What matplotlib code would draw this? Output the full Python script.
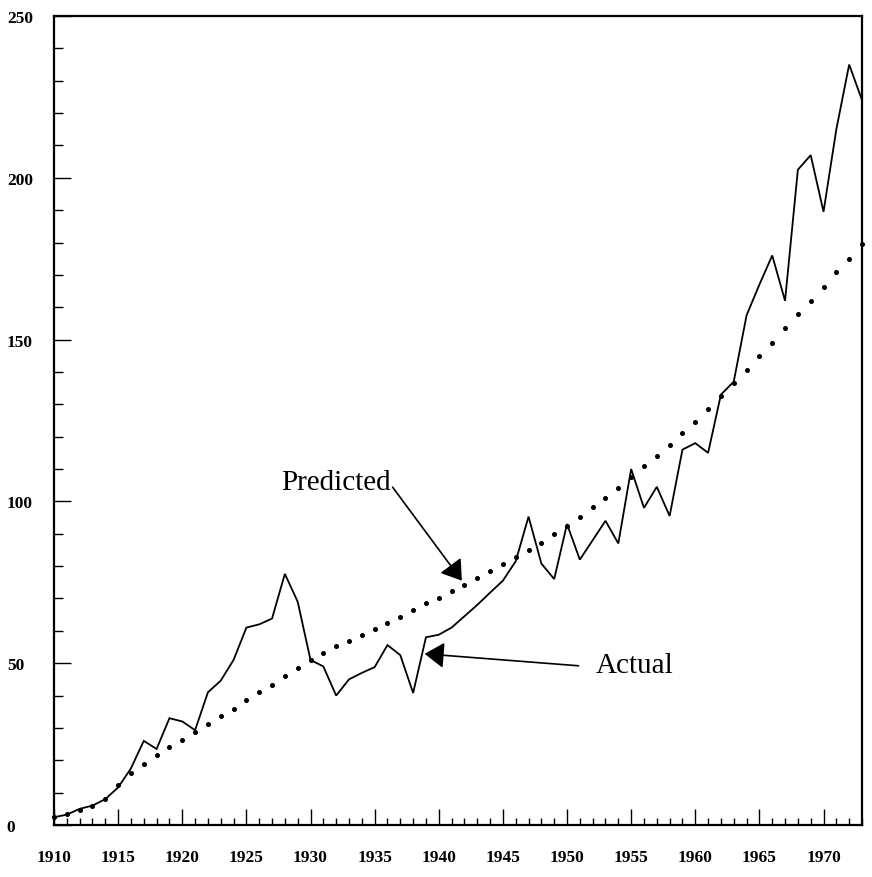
import matplotlib
matplotlib.use("Agg")
import matplotlib.pyplot as plt
from matplotlib.ticker import MultipleLocator

YEARS = list(range(1910, 1974))

ACTUAL = [
    2.4, 3.2, 5.0, 6.0, 8.0, 11.6, 17.5, 26.0, 23.5, 33.0,
    32.0, 29.3, 41.0, 44.6, 51.0, 61.0, 62.0, 63.8, 77.6, 69.0,
    51.0, 49.0, 40.0, 45.0, 47.0, 48.8, 55.6, 52.5, 40.8, 58.0,
    58.8, 61.0, 64.5, 68.0, 71.8, 75.5, 81.5, 95.3, 80.8, 76.0,
    93.0, 82.0, 88.0, 94.0, 87.0, 110.0, 98.0, 104.5, 95.5, 116.0,
    118.0, 115.0, 133.0, 137.0, 157.5, 167.0, 176.0, 162.0, 202.5, 207.0,
    189.5, 215.0, 235.0, 224.0,
]

PREDICTED = [
    2.5, 3.5, 4.5, 5.8, 8.0, 12.3, 16.0, 18.8, 21.5, 24.0,
    26.4, 28.8, 31.2, 33.6, 36.0, 38.5, 41.0, 43.4, 45.9, 48.4,
    51.0, 53.3, 55.3, 57.0, 58.8, 60.6, 62.4, 64.4, 66.5, 68.5,
    70.3, 72.2, 74.2, 76.2, 78.4, 80.6, 82.7, 84.9, 87.2, 89.8,
    92.4, 95.2, 98.2, 101.0, 104.0, 107.5, 110.8, 114.0, 117.4, 121.0,
    124.5, 128.5, 132.5, 136.5, 140.6, 145.0, 149.0, 153.5, 158.0, 162.0,
    166.4, 170.8, 175.0, 179.5,
]

X_TICKS = list(range(1910, 1971, 5))
Y_TICKS = [0, 50, 100, 150, 200, 250]

# label anchors and arrow ends (year, value)
PREDICTED_LABEL = (1927.7, 106.0)
PREDICTED_ARROW = ((1936.4, 104.4), (1941.8, 75.5))
ACTUAL_LABEL = (1952.2, 49.3)
ACTUAL_ARROW = ((1950.9, 49.2), (1938.9, 52.9))


def plot_chart() -> None:
    plt.rcParams["font.family"] = ["Liberation Serif", "DejaVu Serif"]

    fig = plt.figure(figsize=(8.72, 8.78), dpi=100)
    ax = fig.add_axes([54 / 872, 52 / 878, 808 / 872, 809 / 878])

    ax.plot(YEARS, ACTUAL, color="black", linewidth=1.3, solid_joinstyle="miter")
    ax.plot(YEARS, PREDICTED, linestyle="none", marker="o", markersize=2.6,
            color="black", clip_on=False)

    ax.set_xlim(1910, 1973)
    ax.set_ylim(0, 250)

    ax.set_xticks(X_TICKS)
    ax.set_xticklabels([str(t) for t in X_TICKS], fontsize=12.5, fontweight="bold")
    ax.xaxis.set_minor_locator(MultipleLocator(1))
    ax.set_yticks(Y_TICKS)
    ax.set_yticklabels([str(t) for t in Y_TICKS], fontsize=12.5, fontweight="bold")
    ax.yaxis.set_minor_locator(MultipleLocator(10))

    ax.tick_params(axis="x", which="major", direction="in", length=11.5, width=1.0, pad=17.5)
    ax.tick_params(axis="x", which="minor", direction="in", length=5, width=1.0)
    ax.tick_params(axis="y", which="major", direction="in", length=12, width=1.0, pad=34)
    ax.tick_params(axis="y", which="minor", direction="in", length=6.5, width=1.0)
    for lbl in ax.get_yticklabels():
        lbl.set_horizontalalignment("left")

    for spine in ax.spines.values():
        spine.set_linewidth(1.6)

    arrow = dict(arrowstyle="-|>,head_length=1.2,head_width=0.8", mutation_scale=10,
                 color="black", linewidth=1.2, shrinkA=0, shrinkB=0)

    ax.text(*PREDICTED_LABEL, "Predicted", fontsize=21, ha="left", va="center")
    ax.annotate("", xy=PREDICTED_ARROW[1], xytext=PREDICTED_ARROW[0], arrowprops=arrow)

    ax.text(*ACTUAL_LABEL, "Actual", fontsize=21, ha="left", va="center")
    ax.annotate("", xy=ACTUAL_ARROW[1], xytext=ACTUAL_ARROW[0], arrowprops=arrow)

    fig.savefig("out.png", dpi=100)
    plt.close(fig)


def main() -> None:
    plot_chart()


if __name__ == "__main__":
    main()
